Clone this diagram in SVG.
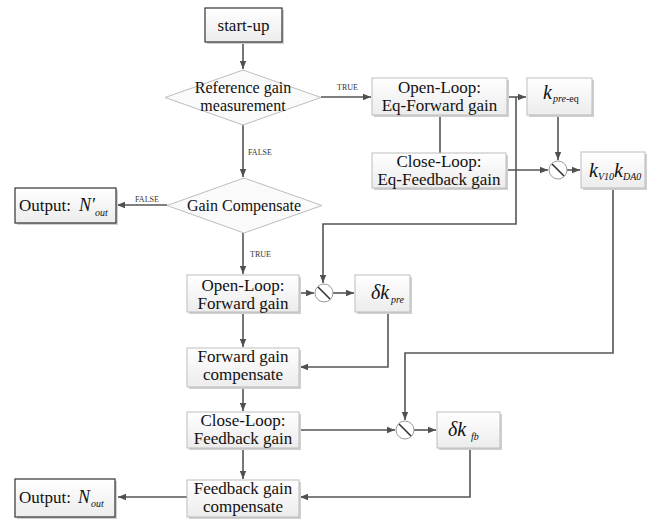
<svg xmlns="http://www.w3.org/2000/svg" width="656" height="521" viewBox="0 0 656 521">
<defs>
<linearGradient id="g" x1="0" y1="0" x2="0" y2="1"><stop offset="0" stop-color="#ffffff"/><stop offset="1" stop-color="#ececec"/></linearGradient>
<marker id="ah" viewBox="0 0 10 10" refX="10" refY="5" markerWidth="8" markerHeight="8" markerUnits="userSpaceOnUse" orient="auto"><path d="M0,1 L10,5 L0,9 Z" fill="#505050"/></marker>
</defs>
<style>
.box{fill:url(#g);stroke:#bdbdbd;stroke-width:1}
.term{fill:url(#g);stroke:#333;stroke-width:1.2}
.sh{fill:#d0d0d0}
.dia{fill:#fafafa;stroke:#bdbdbd;stroke-width:1}
text{font-family:"Liberation Serif","Tinos","DejaVu Serif","Noto Serif","Times New Roman",serif}
.t{font-size:17px;fill:#111;text-anchor:middle}
.d{font-size:16px;fill:#111;text-anchor:middle}
.lbl{font-size:8px;fill:#333}
.m{font-size:20px;font-style:italic;fill:#111}
.s{font-size:10px;font-style:italic;fill:#111}
.su{font-size:10px;font-style:normal;fill:#111}
.c{fill:none;stroke:#555;stroke-width:1.6}
.ca{fill:none;stroke:#555;stroke-width:1.6;marker-end:url(#ah)}
.mul{fill:#fff;stroke:#999;stroke-width:1}
</style>

<g id="connectors">
<path class="ca" d="M243,42 V69"/>
<path class="ca" d="M321,97 H371"/>
<path class="ca" d="M243,125 V177"/>
<path class="c" d="M440,115 V153"/>
<path class="ca" d="M507,97 H526"/>
<path class="ca" d="M516,97 V224 H323 V283"/>
<path class="ca" d="M558,115 V160"/>
<path class="ca" d="M506,170 H548"/>
<path class="ca" d="M567,170 H580"/>
<path class="ca" d="M613,188 V353 H405 V420"/>
<path class="ca" d="M167,205 H117"/>
<path class="ca" d="M243,233 V274"/>
<path class="ca" d="M299,293 H314"/>
<path class="ca" d="M333,293 H354"/>
<path class="ca" d="M388,312 V367 H300"/>
<path class="ca" d="M243,312 V347"/>
<path class="ca" d="M243,388 V411"/>
<path class="ca" d="M299,430 H395"/>
<path class="ca" d="M414,430 H436"/>
<path class="ca" d="M470,448 V497 H300"/>
<path class="ca" d="M243,448 V479"/>
<path class="ca" d="M187,497 H118"/>
<text class="lbl" x="337" y="90">TRUE</text>
<text class="lbl" x="248" y="155">FALSE</text>
<text class="lbl" x="135" y="202">FALSE</text>
<text class="lbl" x="250" y="257">TRUE</text>
</g>

<g id="start-up">
<rect class="sh" x="207" y="10" width="77" height="34"/>
<rect class="term" x="205" y="8" width="77" height="34"/>
<text class="t" x="243.5" y="31">start-up</text>
</g>

<g id="ref-gain">
<polygon class="dia" points="243,70 321,97.5 243,125 165,97.5"/>
<text class="d" x="243" y="93">Reference gain</text>
<text class="d" x="243" y="111">measurement</text>
</g>

<g id="gain-comp">
<polygon class="dia" points="244,178 322,205.5 244,233 167,205.5"/>
<text class="d" x="244" y="211">Gain Compensate</text>
</g>

<g id="open-loop-eq">
<rect class="sh" x="374" y="80" width="135" height="37"/>
<rect class="box" x="372" y="78" width="135" height="37"/>
<text class="t" x="439.5" y="93">Open-Loop:</text>
<text class="t" x="439.5" y="111">Eq-Forward gain</text>
</g>

<g id="close-loop-eq">
<rect class="sh" x="374" y="155" width="134" height="35"/>
<rect class="box" x="372" y="153" width="134" height="35"/>
<text class="t" x="439" y="167">Close-Loop:</text>
<text class="t" x="439" y="185">Eq-Feedback gain</text>
</g>

<g id="k-pre-eq">
<rect class="sh" x="529" y="80" width="65" height="37"/>
<rect class="box" x="527" y="78" width="65" height="37"/>
<text class="m" x="543" y="99">k<tspan class="s" x="553" y="102">pre</tspan><tspan class="su">-eq</tspan></text>
</g>

<g id="mult-top">
<circle class="mul" cx="558" cy="170" r="9"/>
<path d="M552,164 L564,176" stroke="#333" stroke-width="1.6"/>
</g>

<g id="kv10kda0">
<rect class="sh" x="583" y="154" width="64" height="36"/>
<rect class="box" x="581" y="152" width="64" height="36"/>
<text class="m" x="589" y="177">k<tspan class="s" x="598" y="180">V10</tspan><tspan class="m" x="614" y="177">k</tspan><tspan class="s" x="623" y="180">DA0</tspan></text>
</g>

<g id="output-prime">
<rect class="sh" x="17" y="190" width="101" height="35"/>
<rect class="term" x="15" y="188" width="101" height="35"/>
<text class="t" x="19" y="211" style="text-anchor:start">Output: <tspan class="m" x="79" y="211" style="font-size:18px">N′</tspan><tspan class="s" x="95" y="216">out</tspan></text>
</g>

<g id="open-loop">
<rect class="sh" x="189" y="277" width="112" height="37"/>
<rect class="box" x="187" y="275" width="112" height="37"/>
<text class="t" x="243" y="291">Open-Loop:</text>
<text class="t" x="243" y="309">Forward gain</text>
</g>

<g id="mult-mid">
<circle class="mul" cx="324" cy="293" r="9"/>
<path d="M318,287 L330,299" stroke="#333" stroke-width="1.6"/>
</g>

<g id="dk-pre">
<rect class="sh" x="357" y="277" width="55" height="37"/>
<rect class="box" x="355" y="275" width="55" height="37"/>
<text class="m" x="371" y="299">δk<tspan class="s" x="391" y="303">pre</tspan></text>
</g>

<g id="fwd-comp">
<rect class="sh" x="189" y="350" width="112" height="39"/>
<rect class="box" x="187" y="348" width="112" height="39"/>
<text class="t" x="243" y="362">Forward gain</text>
<text class="t" x="243" y="380">compensate</text>
</g>

<g id="close-loop">
<rect class="sh" x="189" y="414" width="112" height="36"/>
<rect class="box" x="187" y="412" width="112" height="36"/>
<text class="t" x="243" y="426">Close-Loop:</text>
<text class="t" x="243" y="444">Feedback gain</text>
</g>

<g id="mult-bot">
<circle class="mul" cx="405" cy="430" r="9"/>
<path d="M399,424 L411,436" stroke="#333" stroke-width="1.6"/>
</g>

<g id="dk-fb">
<rect class="sh" x="439" y="414" width="63" height="36"/>
<rect class="box" x="437" y="412" width="63" height="36"/>
<text class="m" x="448" y="436">δk<tspan class="s" x="471" y="440">fb</tspan></text>
</g>

<g id="fb-comp">
<rect class="sh" x="189" y="482" width="112" height="37"/>
<rect class="box" x="187" y="480" width="112" height="37"/>
<text class="t" x="243" y="494">Feedback gain</text>
<text class="t" x="243" y="512">compensate</text>
</g>

<g id="output">
<rect class="sh" x="17" y="481" width="100" height="38"/>
<rect class="term" x="15" y="479" width="100" height="38"/>
<text class="t" x="19" y="503" style="text-anchor:start">Output: <tspan class="m" x="78" y="503" style="font-size:18px">N</tspan><tspan class="s" x="91" y="507">out</tspan></text>
</g>
</svg>
